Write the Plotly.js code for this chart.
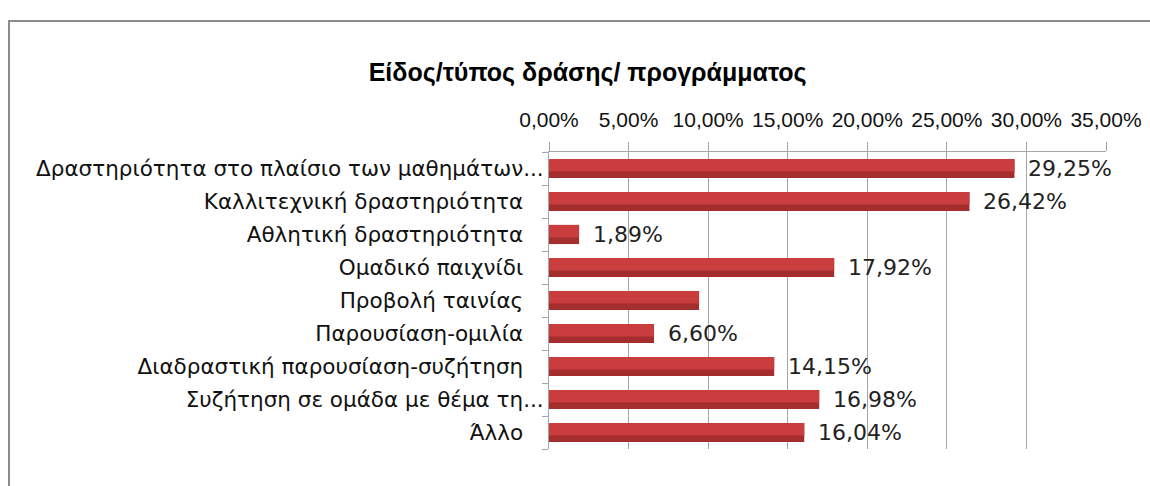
<!DOCTYPE html>
<html><head><meta charset="utf-8">
<script src="https://cdn.plot.ly/plotly-3.0.1.min.js"></script>
<style>html,body{margin:0;padding:0;background:#fff}#chart{width:1150px;height:486px}</style>
</head><body><div id="chart"></div>
<script>
const categories = [
  "Δραστηριότητα στο πλαίσιο των μαθημάτων...",
  "Καλλιτεχνική δραστηριότητα ",
  "Αθλητική δραστηριότητα ",
  "Ομαδικό παιχνίδι ",
  "Προβολή ταινίας ",
  "Παρουσίαση-ομιλία ",
  "Διαδραστική παρουσίαση-συζήτηση ",
  "Συζήτηση σε ομάδα με θέμα τη...",
  "Άλλο "
];
const values = [29.25, 26.42, 1.89, 17.92, 9.43, 6.60, 14.15, 16.98, 16.04];
const showLabel = [true, true, true, true, false, true, true, true, true];
const chartTitle = "Είδος/τύπος δράσης/ προγράμματος";

const fmt = v => v.toFixed(2).replace('.', ',') + '%';
// trailing spaces -> non-breaking so SVG keeps the gap
const catLabels = categories.map(c => c.replace(/ $/, '\u00a0\u00a0\u00a0'));

const baseTrace = {
  type: 'bar', orientation: 'h', y: categories, x: values,
  width: 0.58, marker: {color: '#a42d2e', line: {width: 0}},
  hoverinfo: 'skip', showlegend: false
};
const lightTrace = {
  type: 'bar', orientation: 'h', y: categories, x: values,
  width: 0.38, offset: -0.29, marker: {color: '#c93d3f', line: {width: 0}},
  hoverinfo: 'skip', showlegend: false
};

const annotations = values.map((v, i) => showLabel[i] ? ({
  x: v, y: categories[i], xref: 'x', yref: 'y', text: fmt(v),
  showarrow: false, xanchor: 'left', yanchor: 'middle', xshift: 12,
  font: {family: 'DejaVu Sans, sans-serif', size: 22, color: '#222'}
}) : null).filter(a => a);

const layout = {
  width: 1150, height: 486,
  margin: {l: 549, r: 44, t: 151.5, b: 36.5},
  paper_bgcolor: '#fff', plot_bgcolor: '#fff',
  barmode: 'overlay',
  separators: ',.',
  title: {
    text: '<b>' + chartTitle + '</b>', x: 0.511, xanchor: 'center', y: 0.852, yanchor: 'middle',
    font: {family: 'Liberation Sans, Arial, sans-serif', size: 25, color: '#000'}
  },
  xaxis: {
    side: 'top', range: [0, 35], dtick: 5, tick0: 0,
    tickformat: '.2f', ticksuffix: '%',
    showgrid: true, gridcolor: '#a6a6a6', gridwidth: 1,
    showline: true, linecolor: '#a6a6a6', linewidth: 1,
    ticks: 'outside', ticklen: 9, tickcolor: '#a6a6a6',
    ticklabelstandoff: 7,
    tickfont: {family: 'Liberation Sans, Arial, sans-serif', size: 21, color: '#111'},
    zeroline: false, fixedrange: true
  },
  yaxis: {
    type: 'category', autorange: 'reversed',
    tickvals: categories, ticktext: catLabels,
    showline: true, linecolor: '#a6a6a6', linewidth: 1,
    ticks: 'outside', ticklen: 6, tickcolor: '#a6a6a6', tickson: 'boundaries',
    showgrid: false,
    tickfont: {family: 'DejaVu Sans, sans-serif', size: 21.5, color: '#111'},
    fixedrange: true
  },
  annotations: annotations,
  shapes: [{
    type: 'rect', xref: 'paper', yref: 'paper',
    x0: -0.9695, x1: 1.2, y0: -0.3, y1: 1.441,
    line: {color: '#8c8c8c', width: 2}, fillcolor: 'rgba(0,0,0,0)', layer: 'below'
  }]
};

Plotly.newPlot('chart', [baseTrace, lightTrace], layout, {staticPlot: true, displayModeBar: false});
</script></body></html>
